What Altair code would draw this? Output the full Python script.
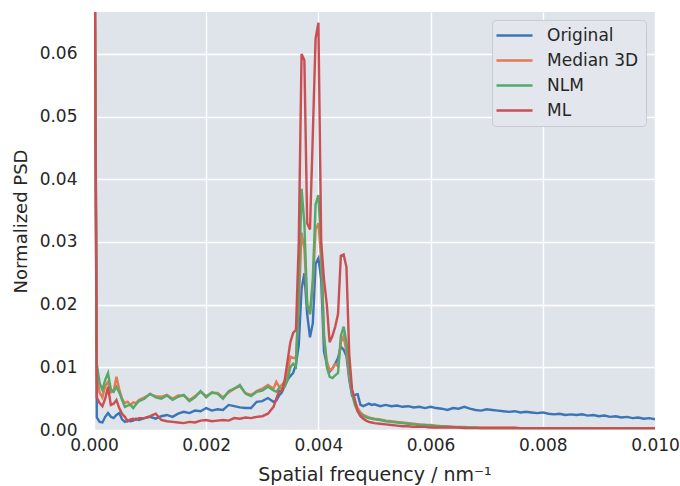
import altair as alt
import pandas as pd

# spatial frequency sample positions (nm^-1)
freq = [
    0.0, 0.00005, 0.0001, 0.00015, 0.0002, 0.00025, 0.0003, 0.00035, 0.0004, 0.00045,
    0.0005, 0.00055, 0.0006, 0.00065, 0.0007, 0.00075, 0.0008,
    0.0009, 0.0010, 0.0011, 0.0012, 0.0013, 0.0014, 0.0015, 0.0016, 0.0017, 0.0018,
    0.0019, 0.0020, 0.0021, 0.0022, 0.0023, 0.0024, 0.0025, 0.0026, 0.0027, 0.0028,
    0.0029, 0.0030, 0.0031, 0.0032,
    0.00325, 0.0033, 0.00335, 0.0034, 0.00345, 0.0035, 0.00355, 0.0036, 0.00365, 0.0037,
    0.00375, 0.0038, 0.00385, 0.0039, 0.00395, 0.0040, 0.00405, 0.0041, 0.00415, 0.0042,
    0.00425, 0.0043, 0.00435, 0.0044, 0.00445, 0.0045, 0.00455, 0.0046, 0.00465, 0.0047,
    0.00475, 0.0048, 0.00485, 0.0049, 0.00495, 0.0050,
    0.0051, 0.0052, 0.0053, 0.0054, 0.0055, 0.0056, 0.0057, 0.0058, 0.0059, 0.0060,
    0.0061, 0.0062, 0.0063, 0.0064, 0.0065, 0.0066, 0.0067, 0.0068, 0.0069, 0.0070,
    0.0071, 0.0072, 0.0073, 0.0074, 0.0075, 0.0076, 0.0077, 0.0078, 0.0079, 0.0080,
    0.0081, 0.0082, 0.0083, 0.0084, 0.0085, 0.0086, 0.0087, 0.0088, 0.0089, 0.0090,
    0.0091, 0.0092, 0.0093, 0.0094, 0.0095, 0.0096, 0.0097, 0.0098, 0.0099, 0.0100,
]

psd_original = [
    0.1, 0.0020, 0.0013, 0.0012, 0.0021, 0.0027, 0.0021, 0.0019, 0.0024, 0.0027,
    0.0017, 0.0013, 0.0015, 0.0014, 0.0015, 0.0018, 0.0016,
    0.0019, 0.0021, 0.0018, 0.0022, 0.0024, 0.0021, 0.0026, 0.0029, 0.0027, 0.0031,
    0.0030, 0.0035, 0.0031, 0.0033, 0.0032, 0.0040, 0.0038, 0.0036, 0.0035, 0.0035,
    0.0045, 0.0046, 0.0051, 0.0045,
    0.0047, 0.0055, 0.0060, 0.0071, 0.0080, 0.0086, 0.0091, 0.0105, 0.0135, 0.0225,
    0.0250, 0.0185, 0.0148, 0.0170, 0.0265, 0.0274, 0.0240, 0.0125, 0.0105, 0.0093,
    0.0098, 0.0106, 0.0115, 0.0133, 0.0128, 0.0118, 0.0080, 0.0055, 0.0056, 0.0057,
    0.0040, 0.0038, 0.0040, 0.0042, 0.0040, 0.0041,
    0.0038, 0.0040, 0.0038, 0.0039, 0.0037, 0.0038, 0.0036, 0.0037, 0.0035, 0.0037,
    0.0035, 0.0034, 0.0032, 0.0035, 0.0034, 0.0037, 0.0034, 0.0032, 0.0031, 0.0033,
    0.0032, 0.0031, 0.0030, 0.0029, 0.0030, 0.0028, 0.0029, 0.0028, 0.0027, 0.0028,
    0.0026, 0.0025, 0.0026, 0.0024, 0.0025, 0.0024, 0.0025, 0.0023, 0.0024, 0.0022,
    0.0023, 0.0021, 0.0022, 0.0020, 0.0021, 0.0019, 0.0020, 0.0018, 0.0019, 0.0017,
]

psd_median3d = [
    0.1, 0.0085, 0.0060, 0.0052, 0.0070, 0.0077, 0.0060, 0.0062, 0.0085, 0.0065,
    0.0050, 0.0043, 0.0045, 0.0040, 0.0044, 0.0043, 0.0048,
    0.0052, 0.0057, 0.0054, 0.0053, 0.0056, 0.0050, 0.0055, 0.0055, 0.0048, 0.0054,
    0.0061, 0.0054, 0.0059, 0.0059, 0.0052, 0.0060, 0.0066, 0.0070, 0.0059, 0.0056,
    0.0062, 0.0066, 0.0072, 0.0066,
    0.0077, 0.0069, 0.0072, 0.0078, 0.0090, 0.0117, 0.0115, 0.0115, 0.0200, 0.0315,
    0.0290, 0.0200, 0.0185, 0.0230, 0.0320, 0.0330, 0.0270, 0.0150, 0.0110, 0.0095,
    0.0098, 0.0105, 0.0102, 0.0140, 0.0150, 0.0125, 0.0085, 0.0060, 0.0045, 0.0035,
    0.0028, 0.0024, 0.0022, 0.0020, 0.0019, 0.0018,
    0.0017, 0.0015, 0.0014, 0.0013, 0.0012, 0.0011, 0.0010, 0.0009, 0.0008, 0.0008,
    0.0007, 0.0006, 0.0006, 0.0005, 0.0005, 0.0005, 0.0004, 0.0004, 0.0004, 0.0004,
    0.0004, 0.0004, 0.0004, 0.0004, 0.0004, 0.0003, 0.0003, 0.0003, 0.0003, 0.0003,
    0.0003, 0.0003, 0.0003, 0.0003, 0.0003, 0.0003, 0.0003, 0.0003, 0.0003, 0.0003,
    0.0003, 0.0003, 0.0003, 0.0003, 0.0003, 0.0003, 0.0003, 0.0003, 0.0003, 0.0003,
]

psd_nlm = [
    0.1, 0.0105, 0.0075, 0.0064, 0.0080, 0.0091, 0.0065, 0.0061, 0.0069, 0.0060,
    0.0048, 0.0037, 0.0039, 0.0040, 0.0035, 0.0041, 0.0046,
    0.0050, 0.0058, 0.0052, 0.0050, 0.0055, 0.0048, 0.0053, 0.0056, 0.0046, 0.0052,
    0.0062, 0.0052, 0.0060, 0.0058, 0.0050, 0.0062, 0.0066, 0.0072, 0.0058, 0.0054,
    0.0061, 0.0063, 0.0069, 0.0063,
    0.0061, 0.0067, 0.0066, 0.0069, 0.0080, 0.0100, 0.0106, 0.0101, 0.0220, 0.0385,
    0.0330, 0.0200, 0.0185, 0.0240, 0.0360, 0.0375, 0.0290, 0.0150, 0.0100, 0.0085,
    0.0083, 0.0087, 0.0091, 0.0150, 0.0165, 0.0140, 0.0090, 0.0058, 0.0040, 0.0030,
    0.0026, 0.0022, 0.0020, 0.0019, 0.0018, 0.0017,
    0.0016, 0.0014, 0.0013, 0.0012, 0.0011, 0.0010, 0.0009, 0.0008, 0.0008, 0.0007,
    0.0006, 0.0006, 0.0005, 0.0005, 0.0004, 0.0004, 0.0004, 0.0004, 0.0003, 0.0003,
    0.0003, 0.0003, 0.0003, 0.0003, 0.0003, 0.0003, 0.0003, 0.0003, 0.0003, 0.0003,
    0.0003, 0.0003, 0.0003, 0.0003, 0.0003, 0.0003, 0.0003, 0.0003, 0.0003, 0.0003,
    0.0003, 0.0003, 0.0003, 0.0003, 0.0003, 0.0003, 0.0003, 0.0003, 0.0003, 0.0003,
]

psd_ml = [
    0.1, 0.0052, 0.0043, 0.0038, 0.0050, 0.0069, 0.0040, 0.0042, 0.0048, 0.0035,
    0.0026, 0.0021, 0.0014, 0.0017, 0.0018, 0.0016, 0.0019,
    0.0019, 0.0022, 0.0026, 0.0016, 0.0014, 0.0013, 0.0012, 0.0011, 0.0013, 0.0012,
    0.0015, 0.0016, 0.0014, 0.0015, 0.0016, 0.0015, 0.0019, 0.0018, 0.0020, 0.0019,
    0.0021, 0.0022, 0.0026, 0.0037,
    0.0050, 0.0062, 0.0062, 0.0080, 0.0110, 0.0140, 0.0155, 0.0160, 0.0300, 0.0600,
    0.0590, 0.0330, 0.0320, 0.0470, 0.0625, 0.0650, 0.0300, 0.0240, 0.0200, 0.0140,
    0.0150, 0.0165, 0.0185, 0.0278, 0.0280, 0.0260, 0.0120, 0.0065, 0.0048, 0.0030,
    0.0022, 0.0018, 0.0015, 0.0013, 0.0012, 0.0011,
    0.0010, 0.0009, 0.0008, 0.0007, 0.0006, 0.0006, 0.0005, 0.0005, 0.0005, 0.0004,
    0.0004, 0.0004, 0.0004, 0.0004, 0.0004, 0.0003, 0.0003, 0.0003, 0.0003, 0.0003,
    0.0003, 0.0003, 0.0003, 0.0003, 0.0003, 0.0003, 0.0003, 0.0003, 0.0003, 0.0003,
    0.0003, 0.0003, 0.0003, 0.0003, 0.0003, 0.0003, 0.0003, 0.0003, 0.0003, 0.0003,
    0.0003, 0.0003, 0.0003, 0.0003, 0.0003, 0.0003, 0.0003, 0.0003, 0.0003, 0.0003,
]

series_names = ["Original", "Median 3D", "NLM", "ML"]
series_colors = ["#3a75b8", "#e07b54", "#55a868", "#c94f52"]
x_ticks = [0.0, 0.002, 0.004, 0.006, 0.008, 0.010]
y_ticks = [0.0, 0.01, 0.02, 0.03, 0.04, 0.05, 0.06]

rows = []
for name, vals in zip(series_names, [psd_original, psd_median3d, psd_nlm, psd_ml]):
    for f, v in zip(freq, vals):
        rows.append({"freq": f, "psd": v, "method": name})
df = pd.DataFrame(rows)

FONT = "DejaVu Sans"
TXT = "#262626"

chart = (
    alt.Chart(df)
    .mark_line(strokeWidth=2.4, clip=True)
    .encode(
        x=alt.X(
            "freq:Q",
            scale=alt.Scale(domain=[0, 0.010], nice=False, zero=False),
            axis=alt.Axis(
                values=x_ticks, format=".3f", title="Spatial frequency / nm⁻¹",
                labelPadding=7, titlePadding=12, labelFlush=False,
                titleFontSize=19,
            ),
        ),
        y=alt.Y(
            "psd:Q",
            scale=alt.Scale(domain=[0, 0.0667], nice=False),
            axis=alt.Axis(
                values=y_ticks, format=".2f", title="Normalized PSD",
                labelPadding=17, titlePadding=9, labelFlush=False,
                titleFontSize=18,
            ),
        ),
        color=alt.Color(
            "method:N",
            scale=alt.Scale(domain=series_names, range=series_colors),
            legend=alt.Legend(
                title=None, orient="none", legendX=398, legendY=8,
                symbolType="M-3.6,0H3.6", symbolSize=100, symbolStrokeWidth=2.4,
                symbolOffset=7,
                labelFontSize=17, labelFont=FONT, labelColor=TXT, labelOffset=24,
                fillColor="#e3e6ed", strokeColor="#c9ccd2", cornerRadius=4,
                padding=7, rowPadding=7,
            ),
        ),
    )
    .properties(
        width=561, height=418,
        padding={"left": 94, "top": 12, "right": 25, "bottom": 56},
        autosize=alt.AutoSizeParams(type="none"),
    )
    .configure_view(fill="#dfe3ea", stroke=None)
    .configure_axis(
        grid=True, gridColor="#ffffff", gridWidth=1.4, domain=False, ticks=False,
        labelFont=FONT, labelFontSize=17, labelColor=TXT,
        titleFont=FONT, titleColor=TXT, titleFontWeight="normal",
    )
)

chart.save("out.html", embed_options={"renderer": "svg", "actions": False})
